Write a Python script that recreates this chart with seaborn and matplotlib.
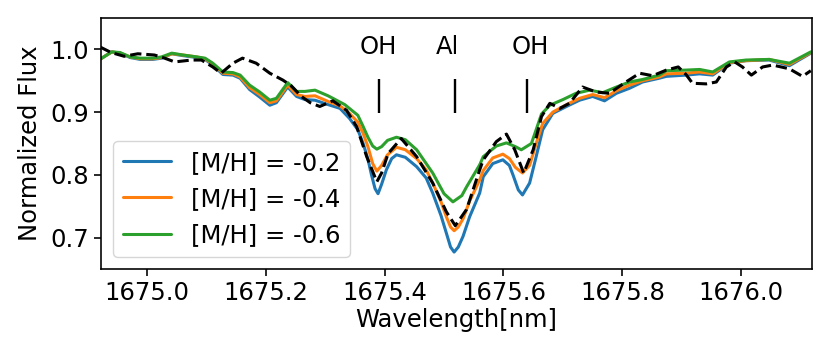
import matplotlib
matplotlib.use("Agg")
import matplotlib.pyplot as plt
import seaborn as sns
import pandas as pd

# ---- data ----
wl_m02 = [1674.921, 1674.941, 1674.955, 1674.972, 1674.989, 1675.010, 1675.025, 1675.042, 1675.061, 1675.084,
          1675.098, 1675.111, 1675.128, 1675.145, 1675.157, 1675.173, 1675.190, 1675.207, 1675.218, 1675.237,
          1675.252, 1675.266, 1675.283, 1675.305, 1675.325, 1675.341, 1675.355, 1675.364, 1675.372, 1675.378,
          1675.384, 1675.389, 1675.395, 1675.403, 1675.412, 1675.420, 1675.435, 1675.454, 1675.470, 1675.481,
          1675.495, 1675.504, 1675.511, 1675.517, 1675.524, 1675.532, 1675.543, 1675.560, 1675.566, 1675.582,
          1675.599, 1675.610, 1675.616, 1675.625, 1675.632, 1675.644, 1675.655, 1675.666, 1675.683, 1675.706,
          1675.728, 1675.750, 1675.770, 1675.790, 1675.812, 1675.834, 1675.862, 1675.874, 1675.907, 1675.930,
          1675.952, 1675.980, 1676.008, 1676.047, 1676.081, 1676.117]
flux_m02 = [0.984, 0.996, 0.994, 0.987, 0.984, 0.984, 0.986, 0.993, 0.990, 0.987,
            0.984, 0.975, 0.960, 0.959, 0.954, 0.936, 0.924, 0.911, 0.915, 0.940,
            0.925, 0.920, 0.919, 0.912, 0.906, 0.890, 0.872, 0.850, 0.825, 0.800,
            0.778, 0.770, 0.785, 0.808, 0.826, 0.832, 0.828, 0.813, 0.795, 0.771,
            0.735, 0.707, 0.685, 0.677, 0.685, 0.702, 0.733, 0.771, 0.797, 0.818,
            0.824, 0.815, 0.800, 0.776, 0.768, 0.787, 0.829, 0.872, 0.898, 0.909,
            0.919, 0.925, 0.918, 0.930, 0.938, 0.948, 0.954, 0.957, 0.959, 0.961,
            0.959, 0.978, 0.982, 0.983, 0.974, 0.994]

wl_m04 = [1674.921, 1674.941, 1674.955, 1674.972, 1674.989, 1675.010, 1675.025, 1675.042, 1675.061, 1675.084,
          1675.098, 1675.111, 1675.128, 1675.145, 1675.157, 1675.173, 1675.190, 1675.207, 1675.218, 1675.237,
          1675.252, 1675.266, 1675.283, 1675.305, 1675.325, 1675.341, 1675.355, 1675.364, 1675.372, 1675.380,
          1675.387, 1675.395, 1675.405, 1675.420, 1675.435, 1675.454, 1675.470, 1675.481, 1675.495, 1675.504,
          1675.511, 1675.517, 1675.524, 1675.532, 1675.543, 1675.560, 1675.566, 1675.582, 1675.599, 1675.610,
          1675.620, 1675.632, 1675.644, 1675.655, 1675.666, 1675.683, 1675.706, 1675.728, 1675.750, 1675.770,
          1675.790, 1675.812, 1675.834, 1675.862, 1675.874, 1675.907, 1675.930, 1675.952, 1675.980, 1676.008,
          1676.047, 1676.081, 1676.117]
flux_m04 = [0.984, 0.996, 0.994, 0.988, 0.985, 0.985, 0.987, 0.993, 0.991, 0.988,
            0.985, 0.977, 0.962, 0.961, 0.956, 0.939, 0.928, 0.915, 0.918, 0.943,
            0.928, 0.925, 0.926, 0.917, 0.910, 0.898, 0.884, 0.866, 0.845, 0.818,
            0.806, 0.815, 0.832, 0.844, 0.840, 0.826, 0.808, 0.787, 0.757, 0.733,
            0.717, 0.711, 0.717, 0.730, 0.758, 0.792, 0.807, 0.827, 0.833, 0.826,
            0.812, 0.803, 0.815, 0.850, 0.882, 0.900, 0.912, 0.922, 0.928, 0.923,
            0.934, 0.943, 0.950, 0.956, 0.961, 0.962, 0.964, 0.961, 0.979, 0.982,
            0.984, 0.976, 0.995]

wl_m06 = [1674.921, 1674.941, 1674.955, 1674.972, 1674.989, 1675.010, 1675.025, 1675.042, 1675.061, 1675.084,
          1675.098, 1675.111, 1675.128, 1675.145, 1675.157, 1675.173, 1675.190, 1675.207, 1675.218, 1675.237,
          1675.252, 1675.266, 1675.283, 1675.305, 1675.333, 1675.355, 1675.364, 1675.372, 1675.380, 1675.387,
          1675.395, 1675.405, 1675.420, 1675.435, 1675.454, 1675.481, 1675.500, 1675.515, 1675.530, 1675.538,
          1675.560, 1675.566, 1675.588, 1675.605, 1675.620, 1675.630, 1675.647, 1675.655, 1675.664, 1675.678,
          1675.700, 1675.722, 1675.745, 1675.767, 1675.790, 1675.812, 1675.834, 1675.862, 1675.874, 1675.907,
          1675.930, 1675.952, 1675.980, 1676.008, 1676.047, 1676.081, 1676.117]
flux_m06 = [0.984, 0.996, 0.995, 0.988, 0.986, 0.986, 0.988, 0.994, 0.991, 0.988,
            0.986, 0.978, 0.964, 0.963, 0.959, 0.943, 0.932, 0.919, 0.922, 0.947,
            0.933, 0.933, 0.935, 0.926, 0.912, 0.895, 0.877, 0.860, 0.846, 0.841,
            0.845, 0.855, 0.860, 0.856, 0.840, 0.803, 0.770, 0.757, 0.767, 0.781,
            0.816, 0.829, 0.846, 0.851, 0.845, 0.840, 0.850, 0.872, 0.897, 0.911,
            0.920, 0.930, 0.935, 0.931, 0.940, 0.948, 0.952, 0.959, 0.966, 0.967,
            0.968, 0.964, 0.980, 0.983, 0.984, 0.978, 0.996]

wl_obs = [1674.921, 1674.940, 1674.962, 1674.985, 1675.013, 1675.030, 1675.047, 1675.075, 1675.092, 1675.111,
          1675.125, 1675.145, 1675.161, 1675.184, 1675.207, 1675.229, 1675.243, 1675.260, 1675.275, 1675.291,
          1675.313, 1675.336, 1675.353, 1675.370, 1675.387, 1675.395, 1675.406, 1675.428, 1675.454, 1675.481,
          1675.504, 1675.519, 1675.538, 1675.560, 1675.566, 1675.588, 1675.605, 1675.619, 1675.634, 1675.650,
          1675.664, 1675.678, 1675.695, 1675.711, 1675.733, 1675.756, 1675.778, 1675.806, 1675.829, 1675.851,
          1675.874, 1675.894, 1675.907, 1675.918, 1675.941, 1675.958, 1675.975, 1675.989, 1676.002, 1676.017,
          1676.036, 1676.053, 1676.081, 1676.103, 1676.117]
flux_obs = [1.004, 0.995, 0.989, 0.993, 0.991, 0.986, 0.980, 0.983, 0.983, 0.972,
            0.962, 0.978, 0.986, 0.978, 0.962, 0.951, 0.942, 0.925, 0.915, 0.909,
            0.918, 0.903, 0.877, 0.829, 0.789, 0.803, 0.834, 0.858, 0.829, 0.787,
            0.741, 0.719, 0.745, 0.808, 0.824, 0.853, 0.865, 0.840, 0.803, 0.840,
            0.893, 0.914, 0.906, 0.914, 0.940, 0.932, 0.930, 0.948, 0.962, 0.958,
            0.967, 0.972, 0.960, 0.946, 0.945, 0.948, 0.972, 0.980, 0.972, 0.959,
            0.972, 0.975, 0.969, 0.957, 0.966]

series_labels = ["[M/H] = -0.2", "[M/H] = -0.4", "[M/H] = -0.6"]
series_colors = ["#1f77b4", "#ff7f0e", "#2ca02c"]

line_labels = ["OH", "Al", "OH"]
line_wl = [1675.390, 1675.519, 1675.639]
label_wl = [1675.390, 1675.505, 1675.646]

# ---- style ----
sns.set_style("ticks")
plt.rcParams["font.family"] = ["DejaVu Sans"]
plt.rcParams["font.size"] = 17.5
plt.rcParams["text.color"] = "black"
plt.rcParams["axes.labelcolor"] = "black"
plt.rcParams["axes.edgecolor"] = "black"
plt.rcParams["axes.linewidth"] = 1.17
plt.rcParams["xtick.major.size"] = 5.1
plt.rcParams["ytick.major.size"] = 5.1
plt.rcParams["xtick.major.width"] = 1.17
plt.rcParams["ytick.major.width"] = 1.17
plt.rcParams["xtick.color"] = "black"
plt.rcParams["ytick.color"] = "black"
plt.rcParams["xtick.labelcolor"] = "black"
plt.rcParams["ytick.labelcolor"] = "black"
plt.rcParams["xtick.labelsize"] = 17.5
plt.rcParams["ytick.labelsize"] = 17.5
plt.rcParams["axes.labelsize"] = 17.5
plt.rcParams["legend.fontsize"] = 17.5

fig, ax = plt.subplots(figsize=(8.3, 3.56), dpi=100)
fig.subplots_adjust(left=101/830, right=812/830, bottom=1-269/356, top=1-18/356)

model_sets = [(wl_m02, flux_m02), (wl_m04, flux_m04), (wl_m06, flux_m06)]
for (wl, fl), lab, col in zip(model_sets, series_labels, series_colors):
    df = pd.DataFrame({"wl": wl, "flux": fl})
    sns.lineplot(data=df, x="wl", y="flux", ax=ax, color=col, lw=2.2, label=lab, sort=False)

df_obs = pd.DataFrame({"wl": wl_obs, "flux": flux_obs})
sns.lineplot(data=df_obs, x="wl", y="flux", ax=ax, color="black", lw=2.2,
             linestyle="--", sort=False, legend=False, label="_nolegend_")

ax.vlines(line_wl, 0.898, 0.953, color="black", lw=1.7)
for xw, t in zip(label_wl, line_labels):
    ax.text(xw, 1.003, t, ha="center", va="center", fontsize=17.5, color="black")

ax.set_xlim(1674.923, 1676.119)
ax.set_ylim(0.65, 1.05)
ax.set_xticks([1675.0, 1675.2, 1675.4, 1675.6, 1675.8, 1676.0])
ax.set_yticks([0.7, 0.8, 0.9, 1.0])
ax.set_xlabel("Wavelength[nm]", labelpad=2, color="black")
ax.set_ylabel("Normalized Flux", labelpad=6, color="black")
leg = ax.legend(loc="lower left", frameon=True)
for t in leg.get_texts():
    t.set_color("black")

fig.savefig("out.png", dpi=100)
